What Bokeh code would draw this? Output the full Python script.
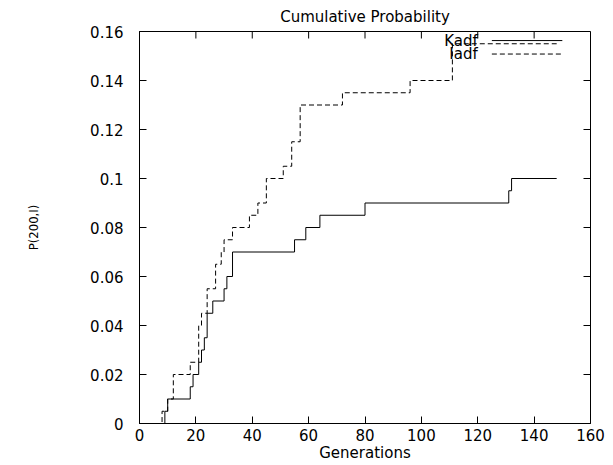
from bokeh.plotting import figure
from bokeh.models import FixedTicker, NumeralTickFormatter, Range1d, Label
from bokeh.embed import file_html
from bokeh.resources import INLINE

# ---- data ----
kadf_gen = [0, 9, 10, 18, 19, 21, 22, 23, 24, 26, 30, 31, 33, 55, 59, 64, 80, 131, 132, 148]
kadf_p = [0, 0.005, 0.01, 0.015, 0.02, 0.025, 0.03, 0.035, 0.045, 0.05, 0.055, 0.06, 0.07,
          0.075, 0.08, 0.085, 0.09, 0.095, 0.1, 0.1]

iadf_gen = [0, 8, 10, 12, 18, 21, 22, 24, 27, 29, 30, 33, 39, 42, 45, 51, 54, 57, 72, 96, 111, 148]
iadf_p = [0, 0.005, 0.01, 0.02, 0.025, 0.04, 0.045, 0.055, 0.065, 0.07, 0.075, 0.08, 0.085,
          0.09, 0.1, 0.105, 0.115, 0.13, 0.135, 0.14, 0.155, 0.155]

x_ticks = [0, 20, 40, 60, 80, 100, 120, 140, 160]
y_ticks = [0, 0.02, 0.04, 0.06, 0.08, 0.1, 0.12, 0.14, 0.16]

series_names = ["Kadf", "Iadf"]

FONT = "DejaVu Sans"
TICK_SIZE = "15px"
LABEL_SIZE = "15px"

X0, X1 = 0, 160
Y0, Y1 = 0, 0.16
FW, FH = 451, 392

p = figure(frame_width=FW, frame_height=FH,
           min_border_left=139, min_border_right=15, min_border_top=30, min_border_bottom=38,
           x_range=Range1d(X0, X1), y_range=Range1d(Y0, Y1),
           output_backend="svg", toolbar_location=None,
           title="Cumulative Probability")

p.background_fill_color = "white"
p.border_fill_color = "white"
p.outline_line_color = "black"
p.outline_line_width = 1
p.grid.visible = False

p.title.align = "center"
p.title.text_font = FONT
p.title.text_font_size = LABEL_SIZE
p.title.text_font_style = "normal"
p.title.text_color = "black"
p.title.standoff = 11

TICK_LEN = 7

def style_axis(ax):
    ax.major_tick_in = TICK_LEN
    ax.major_tick_out = 0
    ax.minor_tick_line_color = None
    ax.axis_line_color = "black"
    ax.major_tick_line_color = "black"
    ax.major_label_text_font = FONT
    ax.major_label_text_font_size = TICK_SIZE
    ax.major_label_text_color = "black"
    ax.axis_label_text_color = "black"
    ax.axis_label_text_font_style = "normal"

xa = p.xaxis[0]
xa.ticker = FixedTicker(ticks=x_ticks)
style_axis(xa)
xa.major_label_standoff = 5
xa.axis_label = "Generations"
xa.axis_label_text_font = FONT
xa.axis_label_text_font_size = LABEL_SIZE
xa.axis_label_standoff = 0

ya = p.yaxis[0]
ya.ticker = FixedTicker(ticks=y_ticks)
ya.formatter = NumeralTickFormatter(format="0.[00]")
style_axis(ya)
ya.major_label_standoff = 16
ya.axis_label = "P(200,I)"
ya.axis_label_text_font = "DejaVu Sans Condensed"
ya.axis_label_text_font_size = "13px"
ya.axis_label_standoff = 46

# mirror ticks on top and right edges (gnuplot style), tick length in pixels
dy = TICK_LEN * (Y1 - Y0) / FH
dx = TICK_LEN * (X1 - X0) / FW
p.segment(x0=x_ticks, y0=[Y1] * len(x_ticks), x1=x_ticks, y1=[Y1 - dy] * len(x_ticks),
          line_color="black", line_width=1)
p.segment(x0=[X1] * len(y_ticks), y0=y_ticks, x1=[X1 - dx] * len(y_ticks), y1=y_ticks,
          line_color="black", line_width=1)

p.step(kadf_gen, kadf_p, mode="after", line_color="black", line_width=1)
p.step(iadf_gen, iadf_p, mode="after", line_color="black", line_width=1, line_dash="5 3")

# ---- key (gnuplot style: text left of sample) ----
key_text_x = 120
key_x0, key_x1 = 125, 150
key_y = [0.1563, 0.1508]
for name, yk, dash in zip(series_names, key_y, ["solid", "5 3"]):
    p.add_layout(Label(x=key_text_x, y=yk, text=name, text_align="right",
                       text_baseline="middle", text_font=FONT, text_font_size=LABEL_SIZE,
                       text_color="black"))
    p.segment(x0=[key_x0], y0=[yk], x1=[key_x1], y1=[yk], line_color="black",
              line_width=1, line_dash=dash)

open("out.html", "w").write(file_html(p, INLINE))
